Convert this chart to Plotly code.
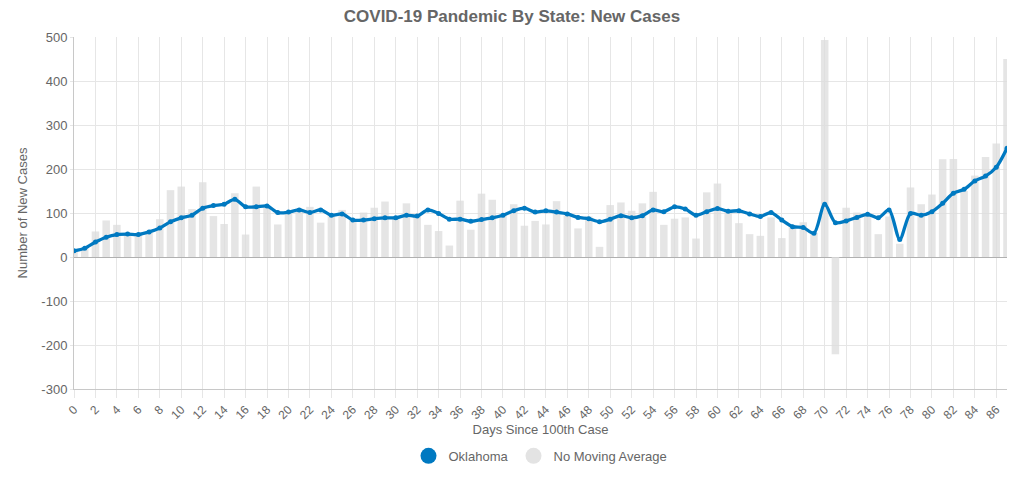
import plotly.graph_objects as go

days = list(range(0, 88))

daily_cases = [
    15, 20, 58, 83, 73, 50, 51, 57, 86, 152,
    160, 109, 170, 93, 75, 145, 51, 160, 116, 74,
    98, 107, 114, 78, 100, 107, 85, 101, 112, 126,
    90, 122, 93, 73, 59, 26, 128, 62, 144, 130,
    98, 120, 71, 82, 74, 127, 95, 65, 92, 23,
    118, 124, 105, 122, 148, 73, 87, 90, 42, 147,
    167, 105, 77, 52, 48, 90, 43, 73, 79, 55,
    493, -221, 112, 101, 100, 52, 92, 30, 158, 120,
    142, 222, 223, 150, 185, 227, 258, 450,
]

oklahoma_avg = [
    14, 20, 34, 45, 51, 52, 51, 57, 66, 80,
    89, 95, 111, 117, 120, 131, 114, 114, 116, 101,
    102, 107, 101, 107, 95, 98, 84, 84, 87, 89,
    89, 95, 93, 107, 99, 86, 86, 81, 85, 89,
    95, 105, 111, 102, 105, 102, 98, 90, 87, 80,
    86, 94, 89, 94, 107, 103, 114, 109, 95, 103,
    110, 104, 105, 98, 92, 101, 84, 69, 67, 54,
    120, 78, 82, 90, 97, 89, 107, 40, 99, 95,
    103, 122, 145, 154, 173, 184, 204, 247,
]

x_tick_vals = list(range(0, 87, 2))
x_tick_text = [str(v) for v in x_tick_vals]
y_tick_vals = [-300, -200, -100, 0, 100, 200, 300, 400, 500]
y_tick_text = ["-300", "-200", "-100", "0", "100", "200", "300", "400", "500"]

BLUE = "#0079c1"
GRAY = "rgba(220,220,220,0.75)"
TEXT = "#666666"
FONT = "Liberation Sans, Arial, sans-serif"

fig = go.Figure()

fig.add_trace(go.Bar(
    x=days, y=daily_cases, name="No Moving Average",
    marker=dict(color=GRAY, line=dict(width=0)),
    width=0.7, showlegend=False, hoverinfo="x+y",
))

fig.add_trace(go.Scatter(
    x=days, y=oklahoma_avg, name="Oklahoma", mode="lines+markers",
    line=dict(color=BLUE, width=3.3, shape="spline", smoothing=0.8),
    marker=dict(color=BLUE, size=5),
    showlegend=False,
))

# legend entries drawn as circles
fig.add_trace(go.Scatter(
    x=[None], y=[None], mode="markers", name="Oklahoma",
    marker=dict(color=BLUE, size=20, symbol="circle"),
))
fig.add_trace(go.Scatter(
    x=[None], y=[None], mode="markers", name="No Moving Average",
    marker=dict(color="#e3e3e3", size=20, symbol="circle"),
))

fig.update_layout(
    width=1024, height=480,
    paper_bgcolor="white", plot_bgcolor="white",
    margin=dict(l=74, r=17, t=37, b=91, autoexpand=False),
    font=dict(family=FONT, color=TEXT, size=12),
    title=dict(
        text="<b>COVID-19 Pandemic By State: New Cases</b>",
        x=0.5, xanchor="center", y=0.967, yanchor="middle",
        font=dict(size=17, color=TEXT, family=FONT),
    ),
    barmode="overlay",
    legend=dict(
        orientation="h", x=0.5, xanchor="center", y=-0.19, yanchor="middle",
        font=dict(size=13, color=TEXT), itemsizing="trace",
    ),
    showlegend=True,
)

fig.update_xaxes(
    range=[0, 87], automargin=False,
    tickmode="array", tickvals=x_tick_vals, ticktext=x_tick_text,
    tickangle=-45, tickfont=dict(size=12, color=TEXT),
    showgrid=True, gridcolor="#e6e6e6", gridwidth=1,
    showline=True, linecolor="#c8c8c8", linewidth=1,
    ticks="outside", ticklen=8, tickcolor="#e6e6e6",
    zeroline=False,
    title=dict(text="Days Since 100th Case", font=dict(size=13, color=TEXT), standoff=0),
)

fig.update_yaxes(
    range=[-300, 500], automargin=False,
    tickmode="array", tickvals=y_tick_vals, ticktext=y_tick_text,
    tickfont=dict(size=13, color=TEXT),
    showgrid=True, gridcolor="#e6e6e6", gridwidth=1,
    showline=True, linecolor="#c8c8c8", linewidth=1,
    ticks="outside", ticklen=3, tickcolor="#e6e6e6",
    zeroline=True, zerolinecolor="#b0b0b0", zerolinewidth=1,
    title=dict(text="Number of New Cases", font=dict(size=13, color=TEXT), standoff=10),
)

fig.write_html("out.html", config={"displayModeBar": False},
               post_script="document.body.style.margin='0';")
